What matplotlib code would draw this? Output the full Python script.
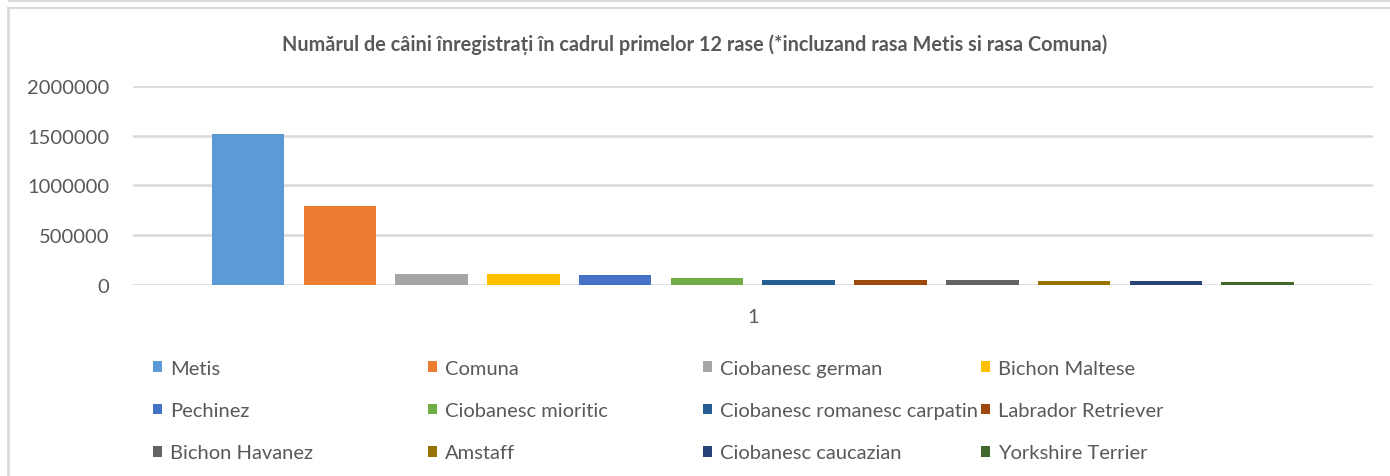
import matplotlib
matplotlib.use("Agg")
import matplotlib.pyplot as plt
from matplotlib.patches import Patch
from matplotlib.lines import Line2D

# --- data ---
breeds = ["Metis", "Comuna", "Ciobanesc german", "Bichon Maltese",
          "Pechinez", "Ciobanesc mioritic", "Ciobanesc romanesc carpatin",
          "Labrador Retriever", "Bichon Havanez", "Amstaff",
          "Ciobanesc caucazian", "Yorkshire Terrier"]
dogs = [1520000, 795000, 103000, 103000, 93000, 63000,
        43000, 42000, 42000, 33000, 32000, 22000]
colors = ["#5b9bd5", "#ed7d31", "#a5a5a5", "#ffc000", "#4472c4", "#70ad47",
          "#255e91", "#9e480e", "#636363", "#997300", "#264478", "#43682b"]
yticks = [0, 500000, 1000000, 1500000, 2000000]
category = "1"
title = ("Numărul de câini înregistrați în cadrul primelor 12 rase "
         "(*incluzand rasa Metis si rasa Comuna)")

text_col = "#595959"
grid_col = "#d9d9d9"
plt.rcParams["font.family"] = ["Lato", "DejaVu Sans"]

W, H = 1390, 477
fig = plt.figure(figsize=(W / 100, H / 100), dpi=100)

# outer frame lines (chart border)
fig.add_artist(Line2D([9 / W, 1], [1 - 1.5 / H, 1 - 1.5 / H], color=grid_col, lw=1.5))
fig.add_artist(Line2D([7.5 / W, 1], [1 - 8.5 / H, 1 - 8.5 / H], color=grid_col, lw=1.5))
fig.add_artist(Line2D([7.5 / W, 7.5 / W], [0, 1 - 8.5 / H], color=grid_col, lw=2))

ax = fig.add_axes([133 / W, 1 - 285.6 / H, (1372.7 - 133) / W, (285.6 - 87.3) / H])

x = list(range(len(dogs)))
ax.bar(x, dogs, width=0.79, color=colors, zorder=3)

ax.set_xlim(-1.254, len(dogs) - 1 + 1.254)
ax.set_ylim(0, 2000000)
ax.set_yticks(yticks)
ax.set_yticklabels([str(v) for v in yticks])
ax.set_xticks([(len(dogs) - 1) / 2])
ax.set_xticklabels([category])
ax.tick_params(axis="both", length=0, labelsize=14.5, colors=text_col)
ax.tick_params(axis="y", pad=17)
ax.tick_params(axis="x", pad=16.5)
ax.grid(axis="y", color=grid_col, lw=1.8, zorder=0)
for s in ax.spines.values():
    s.set_visible(False)

fig.text(0.5, 1 - 45 / H, title, ha="center", va="center",
         fontsize=14.3, fontweight="bold", color=text_col)

# legend: 4 equal-width columns, filled row by row
handles = [Patch(facecolor=c, label=b) for b, c in zip(breeds, colors)]
col_x = [153, 428, 703, 981]
for c in range(4):
    fig.legend(handles=handles[c::4], loc="upper left",
               bbox_to_anchor=(col_x[c] / W, 1 - 361 / H),
               frameon=False, fontsize=14.5, labelcolor=text_col,
               handlelength=0.45, handleheight=0.45, handletextpad=0.4,
               labelspacing=1.25, borderpad=0, borderaxespad=0)

fig.savefig("out.png", dpi=100)
